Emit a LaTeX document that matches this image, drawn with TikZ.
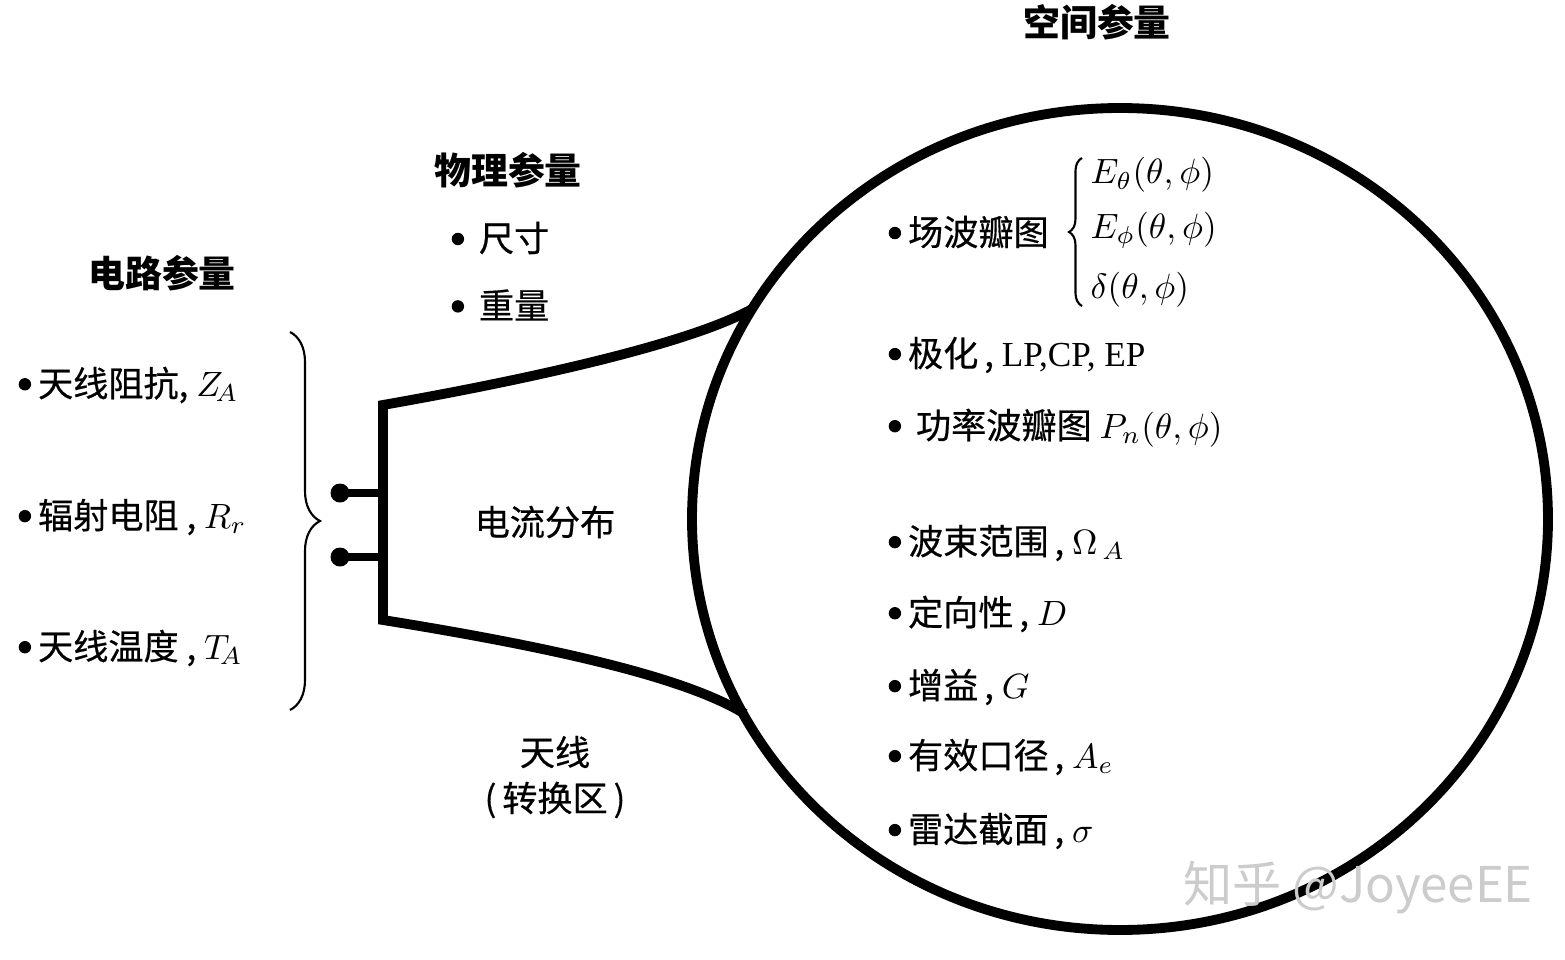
\documentclass[tikz,border=0pt]{standalone}
\usepackage{fontspec}
\setmainfont{Liberation Serif}
\newfontfamily\cjk{Noto Sans CJK SC}
\newfontfamily\cjkbody{Noto Sans CJK SC}[FakeBold=0.5]
\newcommand\bul{\tikz[baseline=-3.5pt]\fill (0,0) circle [radius=0.62mm];\hspace{0.7mm}}
\usetikzlibrary{decorations.pathreplacing,shapes.geometric}
\tikzset{
  head/.style={font=\cjk\bfseries\fontsize{10.5}{12}\selectfont},
  item/.style={anchor=west, inner sep=0pt, font=\cjkbody\fontsize{10}{12}\selectfont},
  label/.style={inner sep=0pt, font=\cjkbody\fontsize{10}{12}\selectfont},
  thick line/.style={line width=2.8pt, line join=miter},
  bracket/.style={decorate, line width=0.6pt},
}
\begin{document}
\begin{tikzpicture}[x=0.1mm, y=-0.1mm]
        \useasboundingbox (0,0) rectangle (1565,960);
        % Espacio: circulo
        \node[draw, thick line, ellipse, minimum width=85.6mm, minimum height=82.2mm, inner sep=0pt] (space) at (1120,519) {};
        \node[head] (spacehead) at (1097,22) {空间参量};
        % Antena (zona de transicion)
        \coordinate (hornTL) at (383,405);
        \coordinate (hornBL) at (383,620);
        \coordinate (hornTR) at (752,309);
        \coordinate (hornBR) at (745,714);
        \draw[thick line] (hornTR) .. controls (700,338) and (570,372) .. (hornTL) -- (hornBL)
              .. controls (570,650) and (690,680) .. (hornBR);
        % Terminales
        \foreach \y/\n in {493/a,557/b} {
            \coordinate (stub\n) at (383,\y);
            \fill (340,\y) circle [radius=0.95mm] coordinate (dot\n);
            \draw[line width=2.4pt] (dot\n) -- (stub\n);
        }
        \node[label] (current) at (545,522) {电流分布};
        \node[label] (antenna) at (555,752) {天线};
        \node[label] (zone) at (555,800) {(\,转换区\,)};
        % Parametros fisicos
        \node[head] (physhead) at (508,170) {物理参量};
        \node[item] (size) at (451,238) {\bul\ 尺寸};
        \node[item] (weight) at (451,305) {\bul\ 重量};
        % Parametros de circuito
        \node[head] (circhead) at (162,273) {电路参量};
        \node[item] (za) at (18,385) {\bul 天线阻抗, $Z_{\!A}$};
        \node[item] (rr) at (18,517) {\bul 辐射电阻 , $R_r$};
        \node[item] (ta) at (18,648) {\bul 天线温度 , $T_{\!A}$};
        \coordinate (braceT) at (290,332);
        \coordinate (braceB) at (290,710);
        \draw[bracket, decoration={brace, amplitude=3mm}] (braceT) -- (braceB);
        % Parametros espaciales
        \node[item] (field) at (888,232) {\bul 场波瓣图};
        \coordinate (fbT) at (1082,158);
        \coordinate (fbB) at (1082,306);
        \draw[bracket, decoration={brace, amplitude=1.3mm}] (fbB) -- (fbT);
        \node[item] (etheta) at (1090,175) {$E_\theta(\theta, \phi)$};
        \node[item] (ephi) at (1090,230) {$E_\phi(\theta, \phi)$};
        \node[item] (delta) at (1090,290) {$\delta(\theta, \phi)$};
        \node[item] (pol) at (888,355) {\bul 极化\,, {\rmfamily LP,CP, EP}};
        \node[item] (power) at (888,428) {\bul\ 功率波瓣图 $P_n(\theta, \phi)$};
        \node[item] (beam) at (888,543) {\bul 波束范围\,, $\Omega_{\,A}$};
        \node[item] (dir) at (888,614) {\bul 定向性\,, $D$};
        \node[item] (gain) at (888,687) {\bul 增益\,, $G$};
        \node[item] (aper) at (888,757) {\bul 有效口径\,, $A_e$};
        \node[item] (radar) at (888,831) {\bul 雷达截面\,, $\sigma$};
        % Marca de agua
        \node[font=\cjk\fontsize{14}{16}\selectfont, text=gray!40] (mark) at (1358,888) {知乎 @JoyeeEE};
    \end{tikzpicture}
\end{document}
